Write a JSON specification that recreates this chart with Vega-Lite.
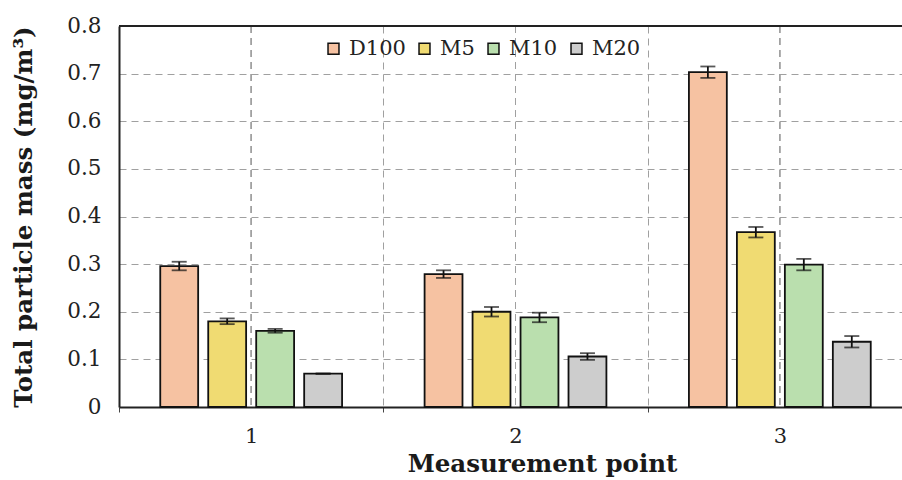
{
  "$schema": "https://vega.github.io/schema/vega-lite/v6.json",
  "width": 783,
  "height": 381,
  "autosize": {"type": "none"},
  "padding": {"left": 119, "top": 26, "right": 0, "bottom": 73},
  "background": "white",
  "config": {
    "view": {"stroke": null},
    "font": "DejaVu Serif",
    "axis": {"labelFont": "DejaVu Serif", "titleFont": "DejaVu Serif"}
  },
  "data": {
    "values": [
      {"point": "1", "series": "D100", "value": 0.296, "lo": 0.287, "hi": 0.305},
      {"point": "1", "series": "M5", "value": 0.180, "lo": 0.174, "hi": 0.186},
      {"point": "1", "series": "M10", "value": 0.160, "lo": 0.156, "hi": 0.164},
      {"point": "1", "series": "M20", "value": 0.070, "lo": 0.0695, "hi": 0.0705},
      {"point": "2", "series": "D100", "value": 0.279, "lo": 0.271, "hi": 0.287},
      {"point": "2", "series": "M5", "value": 0.200, "lo": 0.190, "hi": 0.210},
      {"point": "2", "series": "M10", "value": 0.188, "lo": 0.178, "hi": 0.198},
      {"point": "2", "series": "M20", "value": 0.106, "lo": 0.099, "hi": 0.113},
      {"point": "3", "series": "D100", "value": 0.703, "lo": 0.691, "hi": 0.715},
      {"point": "3", "series": "M5", "value": 0.367, "lo": 0.356, "hi": 0.378},
      {"point": "3", "series": "M10", "value": 0.299, "lo": 0.287, "hi": 0.311},
      {"point": "3", "series": "M20", "value": 0.137, "lo": 0.125, "hi": 0.149}
    ]
  },
  "layer": [
    {
      "mark": {"type": "rule", "color": "#a0a0a0", "strokeDash": [7, 5], "strokeWidth": 1},
      "encoding": {
        "x": {
          "field": "point", "type": "nominal",
          "scale": {"type": "band", "domain": ["1", "2", "3"], "range": [0, 793], "paddingInner": 0, "paddingOuter": 0},
          "axis": {
            "title": "Measurement point",
            "titleFont": "DejaVu Serif", "titleFontWeight": "bold", "titleFontSize": 24.5, "titleColor": "#1a1a1a",
            "titlePadding": 6, "titleX": 423,
            "labelFont": "DejaVu Serif", "labelFontSize": 21, "labelColor": "#222", "labelAngle": 0, "labelPadding": 13,
            "tickBand": "extent", "ticks": true, "tickSize": 5, "tickColor": "#444",
            "grid": true, "gridColor": "#a0a0a0", "gridDash": [7, 5], "gridWidth": 1,
            "domain": true, "domainColor": "#222", "domainWidth": 2
          }
        }
      }
    },
    {
      "mark": {"type": "bar", "stroke": "#111", "strokeWidth": 1.8},
      "encoding": {
        "x": {"field": "point", "type": "nominal"},
        "xOffset": {"field": "series", "type": "nominal", "scale": {"domain": ["D100", "M5", "M10", "M20"], "paddingInner": 0.21, "paddingOuter": 0.86}},
        "y": {
          "field": "value", "type": "quantitative",
          "scale": {"domain": [0, 0.8], "nice": false},
          "axis": {
            "title": "Total particle mass (mg/m³)",
            "titleFont": "DejaVu Serif", "titleFontWeight": "bold", "titleFontSize": 24.5, "titleColor": "#1a1a1a",
            "titlePadding": 30,
            "values": [0, 0.1, 0.2, 0.3, 0.4, 0.5, 0.6, 0.7, 0.8],
            "format": ".1~f",
            "labelFont": "DejaVu Serif", "labelFontSize": 21.5, "labelColor": "#222", "labelPadding": 18,
            "ticks": false,
            "grid": true, "gridColor": "#a0a0a0", "gridDash": [7, 5], "gridWidth": 1,
            "domain": true, "domainColor": "#222", "domainWidth": 2
          }
        },
        "color": {
          "field": "series", "type": "nominal",
          "scale": {"domain": ["D100", "M5", "M10", "M20"], "range": ["#F6C2A2", "#F0DB72", "#BADFAE", "#CDCDCD"]},
          "legend": {
            "title": null,
            "orient": "none", "legendX": 204, "legendY": 12,
            "direction": "horizontal",
            "symbolType": "square", "symbolSize": 120,
            "symbolStrokeColor": "#111", "symbolStrokeWidth": 1.5, "symbolOpacity": 1,
            "labelFont": "DejaVu Serif", "labelFontSize": 21, "labelColor": "#222",
            "labelOffset": 5, "columnPadding": 8
          }
        }
      }
    },
    {
      "mark": {"type": "rule", "color": "#111", "strokeWidth": 1.8},
      "encoding": {
        "x": {"field": "point", "type": "nominal"},
        "xOffset": {"field": "series", "type": "nominal"},
        "y": {"field": "lo", "type": "quantitative"},
        "y2": {"field": "hi"}
      }
    },
    {
      "mark": {"type": "tick", "orient": "horizontal", "size": 15, "thickness": 1.8, "color": "#111"},
      "encoding": {
        "x": {"field": "point", "type": "nominal"},
        "xOffset": {"field": "series", "type": "nominal"},
        "y": {"field": "hi", "type": "quantitative"}
      }
    },
    {
      "mark": {"type": "tick", "orient": "horizontal", "size": 15, "thickness": 1.8, "color": "#111"},
      "encoding": {
        "x": {"field": "point", "type": "nominal"},
        "xOffset": {"field": "series", "type": "nominal"},
        "y": {"field": "lo", "type": "quantitative"}
      }
    },
    {
      "mark": {"type": "rule", "color": "#222", "strokeWidth": 2},
      "encoding": {"y": {"datum": 0.8}}
    }
  ]
}
